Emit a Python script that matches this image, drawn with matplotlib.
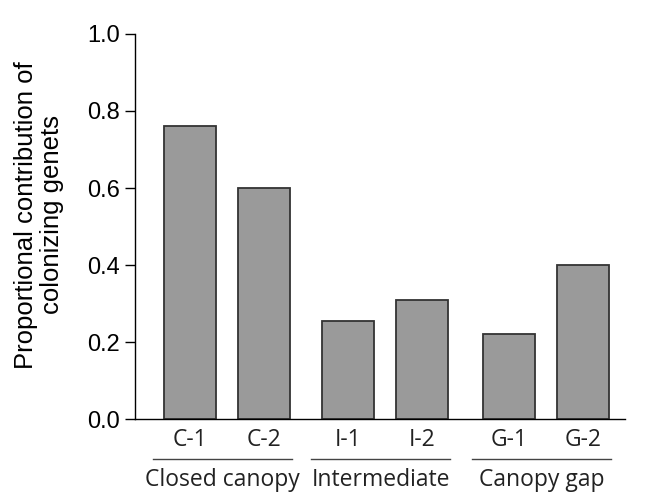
import matplotlib
matplotlib.use("Agg")
import matplotlib.pyplot as plt

site_labels = ["C-1", "C-2", "I-1", "I-2", "G-1", "G-2"]
values = [0.76, 0.60, 0.255, 0.31, 0.22, 0.40]
positions = [0, 1, 2.14, 3.14, 4.32, 5.32]
groups = ["Closed canopy", "Intermediate", "Canopy gap"]
y_ticks = [0.0, 0.2, 0.4, 0.6, 0.8, 1.0]

fig = plt.figure(figsize=(6.46, 4.92), dpi=100)
ax = fig.add_axes([0.209, 0.148, 0.758, 0.783])

ax.bar(positions, values, width=0.7, color="#9a9a9a", edgecolor="#333333", linewidth=1.3)

ax.set_xlim(-0.74, 5.88)
ax.set_ylim(0, 1.0)
ax.set_yticks(y_ticks)
ax.set_yticklabels([f"{v:.1f}" for v in y_ticks], fontsize=17, family="Liberation Sans")
ax.tick_params(axis="y", direction="out", length=7, width=1, pad=4)
ax.set_xticks([])
for s in ["top", "right"]:
    ax.spines[s].set_visible(False)
ax.spines["left"].set_linewidth(1)
ax.spines["bottom"].set_linewidth(1)

# y label placed by hand to match the two-line layout
fig.text(39 / 646, 1 - 215 / 492, "Proportional contribution of\ncolonizing genets",
         rotation=90, ha="center", va="center", multialignment="center",
         fontsize=18.5, family="Liberation Sans", linespacing=1.15)

trans = ax.get_xaxis_transform()
for p, lab in zip(positions, site_labels):
    ax.text(p, -0.022, lab, transform=trans, ha="center", va="top",
            fontsize=16.5, family="Open Sans", color="#222222")

for i, g in enumerate(groups):
    x0 = positions[2 * i] - 0.5
    x1 = positions[2 * i + 1] + 0.38
    ax.plot([x0, x1], [-0.104, -0.104], transform=trans, color="#444444",
            linewidth=1, clip_on=False)
    ax.text((x0 + x1) / 2, -0.128, g, transform=trans, ha="center", va="top",
            fontsize=16.5, family="Open Sans", color="#222222")

fig.savefig("out.png", dpi=100)
